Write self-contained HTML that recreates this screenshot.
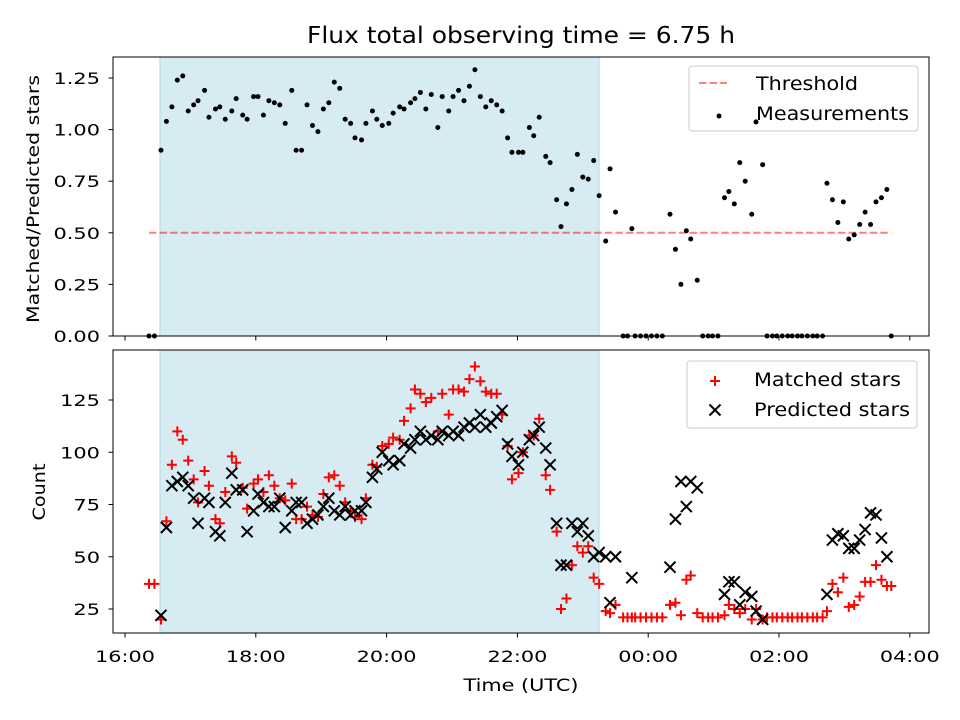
<!DOCTYPE html>
<html><head><meta charset="utf-8"><style>
body{margin:0;background:#fff;}
svg{display:block;font-family:"DejaVu Sans","Liberation Sans",sans-serif;}
</style></head><body>
<svg id="chart" width="960" height="720" viewBox="0 0 960 720">
<rect width="960" height="720" fill="#fff"/>
<text x="521" y="43" font-size="23" text-anchor="middle" textLength="428" lengthAdjust="spacingAndGlyphs">Flux total observing time = 6.75 h</text>
<g id="top"></g>
<g id="bot"></g>
</svg>
<script>
// minutes since 16:00
const times = [22,27,33,38,43,48,53,58,63,67,73,77,83,87,92,98,102,108,112,118,122,127,132,137,142,147,153,157,162,167,172,177,182,187,192,197,202,207,211,217,221,227,231,236,242,246,252,256,262,266,271,276,281,287,291,297,301,306,311,316,321,326,331,336,341,346,351,355,361,365,371,375,380,386,390,396,400,405,410,415,420,425,430,435,441,445,450,457,461,465,468,473,478,483,488,493,500,505,510,515,519,525,530,535,539,544,550,554,559,564,569,575,579,585,589,594,598,603,608,612,617,621,626,631,635,640,644,649,654,659,664,669,674,679,684,689,694,699,703];
const ratio = [0,0,0.90,1.04,1.11,1.24,1.26,1.09,1.12,1.14,1.19,1.06,1.10,1.11,1.05,1.09,1.15,1.07,1.05,1.16,1.16,1.07,1.14,1.13,1.12,1.03,1.19,0.90,0.90,1.12,1.02,0.99,1.10,1.13,1.23,1.20,1.05,1.03,0.96,0.95,1.03,1.09,1.05,1.02,1.03,1.08,1.11,1.10,1.13,1.15,1.18,1.10,1.17,1.01,1.16,1.09,1.16,1.19,1.14,1.21,1.29,1.16,1.11,1.14,1.12,1.09,0.96,0.89,0.89,0.89,1.01,0.97,1.06,0.87,0.84,0.66,0.53,0.64,0.71,0.88,0.77,0.76,0.85,0.68,0.46,0.81,0.60,0,0,0.52,0,0,0,0,0,0,0.59,0.42,0.25,0.51,0.47,0.27,0,0,0,0,0.67,0.70,0.64,0.84,0.75,0.59,1.04,0.83,0,0,0,0,0,0,0,0,0,0,0,0,0.74,0.66,0.55,0.65,0.47,0.49,0.54,0.60,0.54,0.65,0.67,0.71,0];
const matched = [37,37,20,67,94,110,106,96,87,76,91,84,68,66,81,98,95,83,73,85,87,81,89,84,78,77,85,68,68,74,70,69,80,88,89,84,76,72,69,68,78,94,93,103,104,107,106,115,121,130,128,124,126,110,128,118,130,130,129,135,141,134,129,128,128,118,103,87,90,100,108,108,116,89,82,62,25,30,46,55,52,55,40,37,24,23,27,21,21,21,21,21,21,21,21,21,27,28,22,39,41,23,21,21,21,21,22,27,25,23,25,20,25,20,21,21,21,21,21,21,21,21,21,21,21,21,24,37,33,40,26,27,31,38,38,46,39,36,36];
const predicted = [null,null,22,64,84,86,88,84,78,66,78,76,62,60,76,90,82,82,62,72,80,76,74,74,78,64,72,76,76,66,68,70,74,78,72,70,74,70,72,72,76,88,92,100,96,94,96,104,102,106,110,106,108,106,110,108,110,108,112,114,112,118,112,114,117,120,104,98,94,100,106,108,112,102,94,66,46,46,66,62,66,60,50,52,50,28,50,null,null,40,null,null,null,null,null,null,45,68,86,74,86,83,null,null,null,null,32,38,38,27,33,31,24,20,null,null,null,null,null,null,null,null,null,null,null,null,32,58,61,60,54,54,58,63,71,70,59,50,null];
const threshold = 0.5;
const topTicks = [0,0.25,0.5,0.75,1.0,1.25];
const topTickLabels = ["0.00","0.25","0.50","0.75","1.00","1.25"];
const botTicks = [25,50,75,100,125];
const xTicks = [0,120,240,360,480,600,720];
const xTickLabels = ["16:00","18:00","20:00","22:00","00:00","02:00","04:00"];
const shadeStart = 32.1, shadeEnd = 434.9;

const NS = "http://www.w3.org/2000/svg";
function mk(parent, tag, attrs){const e=document.createElementNS(NS,tag);for(const k in attrs)e.setAttribute(k,attrs[k]);parent.appendChild(e);return e;}
function tlen(s){let w=0;for(const ch of s){w+= /[0-9]/.test(ch)?13.3:6.6;}return w;}
const L=113,R=929;
const xs = m => 125 + m*65.4/60;
const yTop = v => 336 - v*206.4;
const yBot = c => 609 - (c-25)*2.09;

function frame(g, top, bottom, name){
  const r=mk(g,'rect',{x:L,y:top,width:R-L,height:bottom-top,fill:'none',stroke:'#000','stroke-width':1});
  
  
}
function shade(g, top, bottom){
  const r=mk(g,'rect',{x:xs(shadeStart),y:top,width:xs(shadeEnd)-xs(shadeStart),height:bottom-top,fill:'#add8e6','fill-opacity':0.5,stroke:'#add8e6'});
  
  
}
function xAxis(g, bottom, labels){
  xTicks.forEach((m,i)=>{
    const t=mk(g,'line',{x1:xs(m),x2:xs(m),y1:bottom,y2:bottom+4.5,stroke:'#000'});
    
    
    if(labels){
      const tx=mk(g,'text',{x:xs(m),y:bottom+29,'font-size':16,'text-anchor':'middle',textLength:tlen(xTickLabels[i]),lengthAdjust:'spacingAndGlyphs'});
      tx.textContent=xTickLabels[i];
      
      
    }
  });
}

// TOP
const gt=document.getElementById('top');
shade(gt,57,336);
const th=mk(gt,'line',{x1:xs(times[0]),x2:xs(times[times.length-1]),y1:yTop(threshold),y2:yTop(threshold),stroke:'#ff0000','stroke-opacity':0.5,'stroke-width':2,'stroke-dasharray':'7.4,3.2'});


times.forEach((m,i)=>{
  const c=mk(gt,'circle',{cx:xs(m),cy:yTop(ratio[i]),r:2.5,fill:'#000'});
  
  
});
frame(gt,57,336,'top-axes-frame');
topTicks.forEach((v,i)=>{
  mk(gt,'line',{x1:L-4.5,x2:L,y1:yTop(v),y2:yTop(v),stroke:'#000'});
  const t=mk(gt,'text',{x:100,y:yTop(v)+6,'font-size':16,'text-anchor':'end',textLength:tlen(topTickLabels[i]),lengthAdjust:'spacingAndGlyphs'});
  t.textContent=topTickLabels[i];
  
  
});
xAxis(gt,336,false);
const yt=mk(gt,'text',{x:0,y:0,'font-size':17,'text-anchor':'middle',textLength:248,lengthAdjust:'spacingAndGlyphs',transform:'translate(39,199) rotate(-90)'});
yt.textContent='Matched/Predicted stars';


// legend top
const lg=mk(gt,'g',{});


mk(lg,'rect',{x:689,y:66,width:229,height:65,rx:3,fill:'#fff','fill-opacity':0.8,stroke:'#ccc'});
mk(lg,'line',{x1:699,x2:727,y1:83,y2:83,stroke:'#ff0000','stroke-opacity':0.5,'stroke-width':2,'stroke-dasharray':'7.4,3.2'});
let t1=mk(lg,'text',{x:756,y:90,'font-size':19,textLength:102,lengthAdjust:'spacingAndGlyphs'});t1.textContent='Threshold';


mk(lg,'circle',{cx:719,cy:116,r:2.5,fill:'#000'});
mk(lg,'circle',{cx:756,cy:122,r:2.5,fill:'#000'});
let t2=mk(lg,'text',{x:756,y:120,'font-size':19,textLength:153,lengthAdjust:'spacingAndGlyphs'});t2.textContent='Measurements';



// BOTTOM
const gb=document.getElementById('bot');
shade(gb,350,633);
function plus(g,x,y){const s=5;mk(g,'path',{d:`M${x-s},${y}H${x+s}M${x},${y-s}V${y+s}`,stroke:'#ff0000','stroke-width':2,fill:'none'});}
function cross(g,x,y){const s=5.5;mk(g,'path',{d:`M${x-s},${y-s}L${x+s},${y+s}M${x-s},${y+s}L${x+s},${y-s}`,stroke:'#000','stroke-width':2,fill:'none'});}
const gm=mk(gb,'g',{});


const gp=mk(gb,'g',{});


times.forEach((m,i)=>{
  if(matched[i]!=null) plus(gm,xs(m),yBot(matched[i]));
  if(predicted[i]!=null) cross(gp,xs(m),yBot(predicted[i]));
});
frame(gb,350,633,'bottom-axes-frame');
botTicks.forEach(v=>{
  mk(gb,'line',{x1:L-4.5,x2:L,y1:yBot(v),y2:yBot(v),stroke:'#000'});
  const t=mk(gb,'text',{x:100,y:yBot(v)+6,'font-size':16,'text-anchor':'end',textLength:tlen(String(v)),lengthAdjust:'spacingAndGlyphs'});
  t.textContent=String(v);
  
  
});
xAxis(gb,633,true);
const yb=mk(gb,'text',{x:0,y:0,'font-size':17,'text-anchor':'middle',textLength:57,lengthAdjust:'spacingAndGlyphs',transform:'translate(45,492) rotate(-90)'});
yb.textContent='Count';


const xl=mk(gb,'text',{x:521,y:691,'font-size':17,'text-anchor':'middle',textLength:115,lengthAdjust:'spacingAndGlyphs'});
xl.textContent='Time (UTC)';


const lb=mk(gb,'g',{});


mk(lb,'rect',{x:687,y:361,width:230,height:67,rx:3,fill:'#fff','fill-opacity':0.8,stroke:'#ccc'});
plus(lb,715,381);
let t3=mk(lb,'text',{x:754,y:386,'font-size':19,textLength:147,lengthAdjust:'spacingAndGlyphs'});t3.textContent='Matched stars';


cross(lb,715,410);
let t4=mk(lb,'text',{x:754,y:416,'font-size':19,textLength:156,lengthAdjust:'spacingAndGlyphs'});t4.textContent='Predicted stars';


</script>
</body></html>
